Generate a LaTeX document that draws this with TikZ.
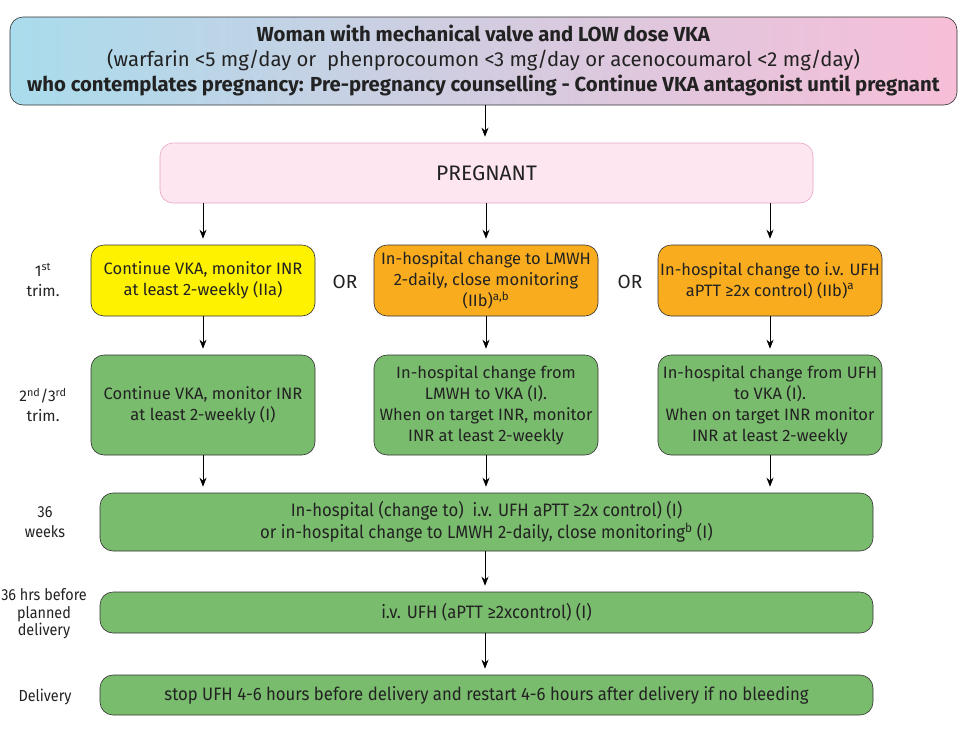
\documentclass[tikz,border=0pt]{standalone}
\usepackage{fontspec}
\setmainfont{Fira Sans}
\newfontfamily\condfont[FakeStretch=0.93]{Fira Sans}
\newfontfamily\lblfont[FakeStretch=0.9]{Fira Sans}
\usetikzlibrary{arrows.meta,calc}
\definecolor{cyanL}{HTML}{A9DCEC}
\definecolor{lavL}{HTML}{D3CCE0}
\definecolor{pinkL}{HTML}{F7BED8}
\definecolor{pregfill}{HTML}{FDE6F0}
\definecolor{pregdraw}{HTML}{E9A6C6}
\definecolor{yel}{HTML}{FFF200}
\definecolor{orn}{HTML}{F9AD1E}
\definecolor{grn}{HTML}{7ABC6D}
\definecolor{txt}{HTML}{222222}
\tikzset{
  box/.style={draw=black!80, line width=0.6pt, rounded corners=13pt, align=center, inner sep=0pt, text=txt},
  rowtext/.style={font=\fontsize{16.5}{21}\selectfont},
  condtext/.style={font=\condfont\fontsize{18}{22}\selectfont},
  lbl/.style={align=center, text=txt},
  arr/.style={-{Stealth[length=9pt,width=7pt]}, line width=0.7pt, shorten >=6pt},
}
\begin{document}
\begin{tikzpicture}[x=1pt,y=-1pt]
\useasboundingbox (0,0) rectangle (967,729);
\fill[white] (0,0) rectangle (967,729);
% top box
\node[box, minimum width=947pt, minimum height=88pt, left color=cyanL, right color=pinkL, middle color=lavL,
      font=\fontsize{20.3}{25}\selectfont] (top) at (483.5,61)
  {\textbf{Woman with mechanical valve and LOW dose VKA}\\
   (warfarin <5 mg/day or\ \ phenprocoumon <3 mg/day or acenocoumarol <2 mg/day)\\
   \textbf{who contemplates pregnancy: Pre-pregnancy counselling - Continue VKA antagonist until pregnant}};
% pregnant
\node[box, draw=pregdraw, fill=pregfill, minimum width=653pt, minimum height=60pt, font=\fontsize{21}{25}\selectfont] (preg) at (486.5,173) {PREGNANT};
% row 1
\node[box, fill=yel, minimum width=224pt, minimum height=71pt, rowtext] (r1a) at (203,280.5)
  {Continue VKA, monitor INR\\at least 2-weekly (IIa)};
\node[box, fill=orn, minimum width=224pt, minimum height=71pt, rowtext] (r1b) at (486,280.5)
  {In-hospital change to LMWH\\2-daily, close monitoring\\(IIb)\textsuperscript{a,b}};
\node[box, fill=orn, minimum width=224pt, minimum height=71pt, rowtext] (r1c) at (770,280.5)
  {In-hospital change to i.v. UFH\\aPTT ≥2x control) (IIb)\textsuperscript{a}};
\node[font=\fontsize{19}{21}\selectfont, text=txt] (or1) at (345,282) {OR};
\node[font=\fontsize{19}{21}\selectfont, text=txt] (or2) at (630,282) {OR};
% row 2
\node[box, fill=grn, minimum width=224pt, minimum height=100pt, rowtext] (r2a) at (203,405)
  {Continue VKA, monitor INR\\at least 2-weekly (I)};
\node[box, fill=grn, minimum width=224pt, minimum height=100pt, rowtext] (r2b) at (486,405)
  {In-hospital change from\\LMWH to VKA (I).\\When on target INR, monitor\\INR at least 2-weekly};
\node[box, fill=grn, minimum width=224pt, minimum height=100pt, rowtext] (r2c) at (770,405)
  {In-hospital change from UFH\\to VKA (I).\\When on target INR monitor\\INR at least 2-weekly};
% bottom
\node[box, fill=grn, minimum width=773pt, minimum height=58pt, condtext] (wk) at (486.5,522)
  {In-hospital (change to)\ \ i.v. UFH aPTT ≥2x control) (I)\\or in-hospital change to LMWH 2-daily, close monitoring\textsuperscript{b} (I)};
\node[box, fill=grn, minimum width=773pt, minimum height=41pt, condtext] (hrs) at (486.5,612.5)
  {i.v. UFH (aPTT ≥2xcontrol) (I)};
\node[box, fill=grn, minimum width=773pt, minimum height=40pt, condtext] (del) at (486.5,695)
  {stop UFH 4-6 hours before delivery and restart 4-6 hours after delivery if no bleeding};
% left labels
\node[lbl, font=\fontsize{15.5}{20}\selectfont] (l1) at (43,280) {1\textsuperscript{st}\\trim.};
\node[lbl, font=\fontsize{15.5}{20}\selectfont] (l2) at (43,405) {2\textsuperscript{nd}/3\textsuperscript{rd}\\trim.};
\node[lbl, font=\lblfont\fontsize{16}{20}\selectfont] (l3) at (45,522) {36\\weeks};
\node[lbl, font=\lblfont\fontsize{16}{17.5}\selectfont] (l4) at (44,614) {36 hrs before\\planned\\delivery};
\node[lbl, font=\lblfont\fontsize{16}{18}\selectfont] (l5) at (45,697) {Delivery};
% arrows
\draw[arr] (top.south -| 485,0) -- (preg.north -| 485,0);
\foreach \n in {r1a,r1b,r1c}{
  \draw[arr] (preg.south -| \n.north) -- (\n.north);
}
\draw[arr] (r1a.south) -- (r2a.north);
\draw[arr] (r1b.south) -- (r2b.north);
\draw[arr] (r1c.south) -- (r2c.north);
\draw[arr] (r2a.south) -- (r2a.south |- wk.north);
\draw[arr] (r2b.south) -- (r2b.south |- wk.north);
\draw[arr] (r2c.south) -- (r2c.south |- wk.north);
\draw[arr] (wk.south -| 485,0) -- (hrs.north -| 485,0);
\draw[arr] (hrs.south -| 485,0) -- (del.north -| 485,0);
\end{tikzpicture}
\end{document}
